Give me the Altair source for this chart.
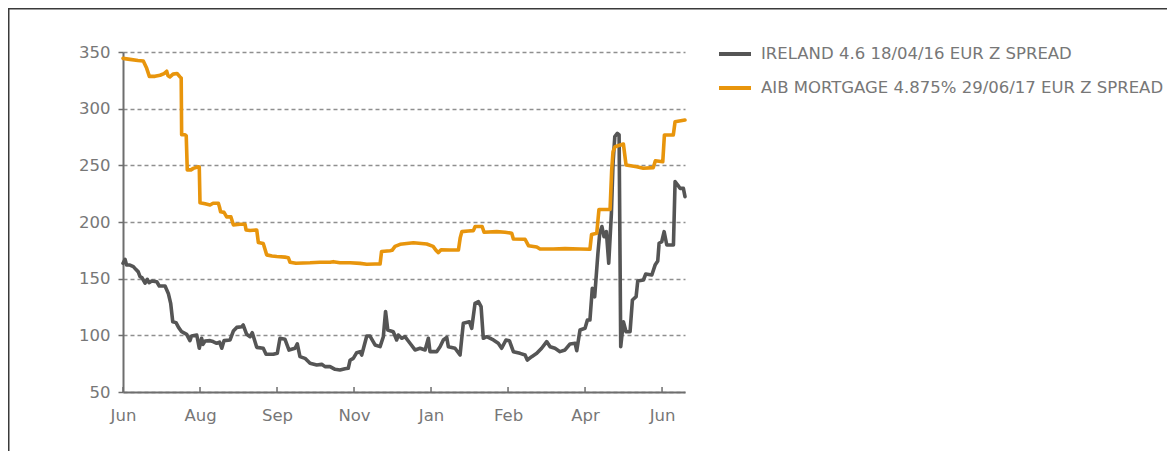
import altair as alt
import pandas as pd

series_names = ["IRELAND 4.6 18/04/16 EUR Z SPREAD", "AIB MORTGAGE 4.875% 29/06/17 EUR Z SPREAD"]
series_colors = ["#555555", "#E8950C"]
start_date = "2012-06-11"

# days since start date
ireland_days = [0, 1.4, 2.4, 4.7, 7.0, 8.8, 10.3, 11.5, 12.8, 14.9,
                16.4, 17.6, 19.4, 22.8, 24.5, 28.4, 30.6, 32.2, 33.6, 35.8,
                37.5, 39.6, 43.0, 45.2, 46.3, 49.8, 51.5, 53.1, 54.0, 55.4,
                58.8, 60.8, 63.3, 65.2, 66.7, 68.2, 72.3, 74.5, 76.8, 80.2,
                81.2, 83.5, 85.8, 87.3, 90.3, 94.7, 96.6, 101.5, 104.2, 106.0,
                109.4, 112.1, 116.2, 117.7, 119.5, 122.9, 126.3, 130.8, 134.2, 136.4,
                139.8, 143.2, 146.5, 149.9, 152.1, 153.3, 155.5, 157.8, 160.1, 161.2,
                164.6, 166.8, 170.2, 173.6, 175.8, 177.3, 178.8, 182.5, 184.8, 185.9,
                188.2, 190.4, 193.8, 197.2, 200.6, 204.0, 206.2, 207.3, 211.8, 214.1,
                216.3, 218.6, 219.7, 224.2, 227.6, 229.8, 233.9, 235.5, 237.7, 240.0,
                241.8, 243.3, 245.6, 250.1, 253.4, 255.7, 258.6, 260.9, 263.6, 268.1,
                271.5, 273.0, 276.0, 279.4, 282.7, 286.1, 288.4, 291.7, 295.1, 298.5,
                301.9, 305.3, 306.4, 308.6, 312.0, 313.6, 315.3, 316.9, 318.5, 320.7,
                321.9, 323.4, 324.8, 326.4, 328.0, 329.8, 330.9, 332.1, 333.8, 335.0,
                336.1, 337.9, 339.7, 342.4, 344.0, 346.5, 347.6, 351.4, 353.0, 357.1,
                359.3, 361.1, 362.0, 363.8, 365.4, 367.2, 371.7, 372.8, 374.6, 376.1,
                378.4, 379.5]
ireland_values = [163.6, 167, 162, 162, 160.6, 158, 156, 151.8, 151, 146,
                  149.4, 146.5, 148, 147.3, 143.5, 143.5, 137, 128.2, 112, 111.2,
                  107, 103.2, 100.9, 95.3, 99.4, 100.3, 88.6, 97.4, 92, 95,
                  95.3, 94.5, 93, 94, 88.6, 95.3, 95.9, 103.8, 107, 107.6,
                  109.1, 100.9, 98.8, 102.3, 89.4, 88.6, 83.3, 83.3, 84.2, 97.4,
                  96.5, 87, 88.6, 92.4, 81.2, 79.7, 75.3, 73.8, 74.4, 72.4,
                  72.4, 70, 69.4, 70.5, 70.9, 78, 79.7, 84.7, 85.6, 82.6,
                  99.4, 99.4, 91.5, 90, 98.8, 121, 104.7, 103.2, 95.9, 100.3,
                  97.4, 98.8, 93, 87.1, 88.6, 87.1, 97.4, 85.6, 85.6, 90,
                  95.9, 98.2, 90, 88.6, 82.6, 110.6, 112, 106.2, 128.2, 129.7,
                  125.3, 97.4, 98.8, 95.9, 93, 88.6, 95.9, 95.3, 85.6, 84.1,
                  82.6, 78.2, 81.2, 84.1, 88.6, 94.5, 90, 88.6, 85.6, 87.1,
                  92.4, 93, 86.5, 104.7, 106.2, 113.5, 113.5, 141.5, 134, 172.4,
                  190, 196, 187, 191.5, 163.6, 207.6, 251.8, 275.3, 278.2, 276.8,
                  90, 112, 103.2, 103.2, 131.2, 134.1, 148, 148.8, 154.1, 153.2,
                  162, 165.6, 181.2, 182.6, 191.5, 179.7, 179.7, 235.6, 232.6, 229.7,
                  229.7, 222.4]

aib_days = [0, 4.7, 10.1, 13.7, 16.0, 17.8, 21.6, 25.0, 27.7, 29.5,
            30.4, 31.7, 33.8, 36.5, 38.5, 39.3, 39.6, 41.9, 42.7, 43.4,
            45.9, 47.5, 50.8, 51.5, 52.0, 55.4, 58.8, 60.8, 64.4, 65.2,
            65.9, 68.2, 70.0, 72.9, 74.5, 79.0, 82.4, 83.1, 85.8, 90.3,
            91.4, 94.7, 95.9, 97.0, 100.6, 103.8, 109.4, 111.6, 112.8, 116.8,
            126.3, 133.0, 139.8, 142.0, 146.5, 153.3, 160.1, 164.6, 170.2, 173.6,
            174.6, 180.3, 181.7, 183.7, 187.1, 196.1, 205.1, 209.4, 211.4, 213.0,
            214.8, 220.9, 226.5, 227.7, 228.8, 233.1, 236.6, 237.8, 242.5, 243.8,
            252.4, 258.0, 262.5, 263.6, 271.5, 273.8, 279.4, 281.6, 290.6, 298.5,
            308.6, 315.3, 316.4, 319.9, 321.4, 328.9, 330.0, 330.9, 332.2, 337.9,
            339.7, 346.9, 351.4, 358.1, 359.5, 364.5, 365.6, 371.6, 372.8, 379.5]
aib_values = [344.4, 343.5, 342.5, 342, 335.6, 328.5, 328.5, 329.5, 331, 333,
              329, 328, 330.5, 331, 328, 327, 277, 277, 276, 246,
              246, 247.3, 248.8, 248.5, 217, 216, 215, 216.5, 216.5, 213,
              209, 208.5, 204.5, 204.5, 197.5, 198, 198, 193, 192.5, 193,
              182, 181, 176, 171, 170, 169.5, 169, 168.5, 164.5, 163.6,
              164, 164.5, 164.5, 165, 164, 164, 163.5, 162.7, 163, 163,
              174, 174.7, 175, 178.5, 180.3, 181.7, 180.6, 178.5, 175, 173,
              175.5, 175.3, 175.3, 186, 191.5, 192, 192.4, 196, 196, 191,
              191.5, 191, 190, 185, 184.8, 179.1, 178, 176.2, 176.2, 176.5,
              176.2, 175.9, 189, 190, 211, 211, 246, 262, 266.4, 268.8,
              250.3, 248.8, 247.4, 248, 254.1, 253.2, 276.8, 276.8, 288.5, 290]

tick_dates = ["2012-06-11", "2012-08-02", "2012-09-23", "2012-11-14",
              "2013-01-05", "2013-02-26", "2013-04-19", "2013-06-10"]
y_ticks = [50, 100, 150, 200, 250, 300, 350]
end_date = "2013-06-25T12:00:00"

start = pd.Timestamp(start_date)
df = pd.concat([
    pd.DataFrame({"date": start + pd.to_timedelta(ireland_days, unit="D"),
                  "spread": ireland_values, "series": series_names[0]}),
    pd.DataFrame({"date": start + pd.to_timedelta(aib_days, unit="D"),
                  "spread": aib_values, "series": series_names[1]}),
], ignore_index=True)

ticks_df = pd.DataFrame({"date": pd.to_datetime(tick_dates)})

W, H = 562, 340
AXIS_COL = "#6e6e6e"
LABEL_COL = "#777777"
FONT = "DejaVu Sans"


def dt(s):
    t = pd.Timestamp(s)
    return alt.DateTime(year=t.year, month=t.month, date=t.day, hours=t.hour)


x_scale = alt.Scale(domain=[dt(start_date), dt(end_date)], nice=False)

lines = alt.Chart(df).mark_line(strokeWidth=3.6, strokeJoin="round", strokeCap="round").encode(
    x=alt.X("date:T", scale=x_scale,
            axis=alt.Axis(values=[dt(d) for d in tick_dates], format="%b", title=None,
                          ticks=False, labelPadding=15, labelFontSize=16.5, labelFont=FONT,
                          labelColor=LABEL_COL, domainColor=AXIS_COL, domainWidth=2,
                          grid=False, labelFlush=False)),
    y=alt.Y("spread:Q", scale=alt.Scale(domain=[50, 350], nice=False, zero=False),
            axis=alt.Axis(values=y_ticks, title=None, grid=True, gridDash=[4, 3],
                          gridColor="#8f8f8f", gridWidth=1.3, tickSize=5, tickWidth=1.5,
                          tickColor=AXIS_COL, domainColor=AXIS_COL, domainWidth=2,
                          labelFontSize=16.5, labelFont=FONT, labelColor=LABEL_COL,
                          labelPadding=8)),
    color=alt.Color("series:N", scale=alt.Scale(domain=series_names, range=series_colors),
                    legend=alt.Legend(title=None, orient="none", legendX=594, legendY=-16,
                                      symbolType="stroke", symbolStrokeWidth=4,
                                      symbolSize=1024, labelFontSize=16.5, labelFont=FONT,
                                      labelColor=LABEL_COL, labelOffset=8, rowPadding=7,
                                      labelLimit=600)),
)

xticks = alt.Chart(ticks_df).mark_rule(color=AXIS_COL, strokeWidth=1.5).encode(
    x=alt.X("date:T"),
    y=alt.value(H - 5),
    y2=alt.value(H),
)

frame = alt.Chart(pd.DataFrame({"a": [0]})).mark_rect(
    fillOpacity=0, stroke="#3a3a3a", strokeWidth=1.5
).encode(
    x=alt.value(-114.25), y=alt.value(-43.25), x2=alt.value(W + 600), y2=alt.value(H + 200)
)

chart = alt.layer(frame, lines, xticks).properties(
    width=W, height=H,
    autosize=alt.AutoSizeParams(type="none"),
    padding={"left": 115, "top": 44, "right": 482, "bottom": 59},
).configure_view(stroke=None)

chart.save("out.html", embed_options={"renderer": "svg", "actions": False})
